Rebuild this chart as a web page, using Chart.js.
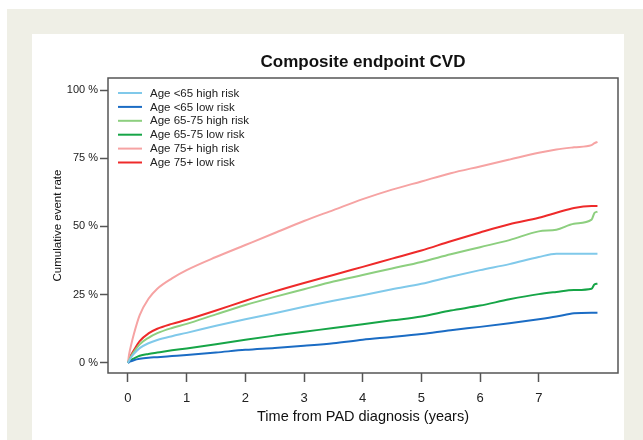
<!DOCTYPE html>
<html>
<head>
<meta charset="utf-8">
<script src="https://cdn.jsdelivr.net/npm/chart.js@4.4.1/dist/chart.umd.min.js"></script>
<style>
  html, body { margin: 0; padding: 0; background: #fff; }
  #wrap { position: relative; width: 643px; height: 440px; overflow: hidden; }
  #beige { position: absolute; left: 7px; top: 9px; width: 636px; height: 431px; background: #efefe6; }
  #panel { position: absolute; left: 32px; top: 34px; width: 592px; height: 406px; background: #fff; }
  #cvdChart { position: absolute; left: 0; top: 0; }
</style>
</head>
<body>
<div id="wrap">
  <div id="beige"></div>
  <div id="panel"></div>
  <canvas id="cvdChart" width="643" height="440"></canvas>
</div>
<script>
// years since PAD diagnosis
var years = [0, 0.02, 0.05, 0.1, 0.2, 0.35, 0.5, 0.75, 1, 1.5, 2, 2.5, 3, 3.5, 4, 4.5, 5, 5.5, 6, 6.5, 7, 7.3, 7.6, 7.9, 7.95, 8.0];

// cumulative event rate (%)
var under65High = [0, 0.8, 1.9, 3.3, 5.4, 7.2, 8.4, 9.8, 11, 13.6, 16, 18.2, 20.6, 22.8, 24.8, 27, 29, 31.6, 34, 36.2, 38.8, 40, 40, 40, 40, 40];
var under65Low = [0, 0.3, 0.6, 1, 1.5, 1.9, 2.1, 2.5, 2.9, 3.8, 4.8, 5.5, 6.3, 7.2, 8.5, 9.5, 10.6, 12, 13.2, 14.5, 16, 17, 18.2, 18.4, 18.4, 18.4];
var age6575High = [0, 1, 2.3, 4, 6.8, 9.2, 10.9, 12.8, 14.3, 17.8, 21.2, 24.2, 27, 29.8, 32.2, 34.6, 37, 39.8, 42.4, 45, 48.2, 48.8, 51, 52.5, 55, 55.4];
var age6575Low = [0, 0.5, 1, 1.6, 2.6, 3.3, 3.8, 4.6, 5.3, 6.8, 8.5, 10, 11.4, 12.8, 14.2, 15.6, 17, 19.2, 21, 23.3, 25.2, 26, 26.7, 27.2, 28.8, 29];
var over75High = [0, 3.2, 6.2, 10.5, 17.5, 23.5, 27.2, 31, 34, 38.8, 43.2, 47.6, 52, 56, 60, 63.5, 66.5, 69.5, 72, 74.5, 77, 78.2, 79, 79.8, 80.5, 81];
var over75Low = [0, 1.3, 2.7, 4.6, 8, 10.8, 12.5, 14.3, 15.8, 19.2, 22.8, 26.2, 29.3, 32.2, 35.2, 38.2, 41.2, 44.6, 47.8, 50.8, 53.2, 55, 56.8, 57.5, 57.5, 57.5];

var seriesLabels = ['Age <65 high risk', 'Age <65 low risk', 'Age 65-75 high risk', 'Age 65-75 low risk', 'Age 75+ high risk', 'Age 75+ low risk'];
var seriesColors = ['#80c9ea', '#1b6cc4', '#8dcf7f', '#16a547', '#f6a3a3', '#ee2a2a'];
var seriesValues = [under65High, under65Low, age6575High, age6575Low, over75High, over75Low];

var xTicks = [0, 1, 2, 3, 4, 5, 6, 7];
var yTicks = [0, 25, 50, 75, 100];

var fontFamily = '"Liberation Sans", Arial, sans-serif';

function toPoints(values) {
    return values.map(function (v, i) { return { x: years[i], y: v }; });
}

var datasets = seriesValues.map(function (values, i) {
    return {
        label: seriesLabels[i],
        data: toPoints(values),
        borderColor: seriesColors[i],
        borderWidth: 2,
        pointRadius: 0,
        fill: false,
        cubicInterpolationMode: 'monotone'
    };
});

// frame around the plot area, like R's box()
var frameBox = {
    id: 'frameBox',
    afterDatasetsDraw: function (chart) {
        var a = chart.chartArea, ctx = chart.ctx;
        ctx.save();
        ctx.strokeStyle = '#555';
        ctx.lineWidth = 1.5;
        ctx.strokeRect(a.left, a.top, a.right - a.left, a.bottom - a.top);
        ctx.restore();
    }
};

// legend inside the plot, top left
var insideLegend = {
    id: 'insideLegend',
    afterDraw: function (chart) {
        var ctx = chart.ctx;
        ctx.save();
        ctx.font = '11.5px ' + fontFamily;
        ctx.textBaseline = 'middle';
        chart.data.datasets.forEach(function (ds, i) {
            var y = 93 + i * 13.9;
            ctx.strokeStyle = ds.borderColor;
            ctx.lineWidth = 2;
            ctx.beginPath();
            ctx.moveTo(118, y);
            ctx.lineTo(142, y);
            ctx.stroke();
            ctx.fillStyle = '#222';
            ctx.fillText(ds.label, 150, y + 0.5);
        });
        ctx.restore();
    }
};

var ctx = document.getElementById('cvdChart').getContext('2d');
var cvdChart = new Chart(ctx, {
    type: 'line',
    data: { datasets: datasets },
    plugins: [frameBox, insideLegend],
    options: {
        responsive: false,
        animation: false,
        layout: { padding: { left: 0, top: 0, right: 25, bottom: 0 } },
        plugins: {
            legend: { display: false },
            tooltip: { enabled: false },
            title: {
                display: true,
                fullSize: false,
                text: 'Composite endpoint CVD',
                color: '#111',
                font: { family: fontFamily, size: 17, weight: 'bold', lineHeight: 1.2 },
                padding: { top: 51.8, bottom: 5.8 }
            }
        },
        scales: {
            x: {
                type: 'linear',
                min: -0.34,
                max: 8.35,
                afterBuildTicks: function (scale) {
                    scale.ticks = xTicks.map(function (v) { return { value: v }; });
                },
                afterFit: function (scale) { scale.height = 67; },
                grid: { drawOnChartArea: false, tickLength: 9, tickColor: '#555', tickWidth: 1.5 },
                border: { display: false },
                ticks: {
                    color: '#222',
                    padding: 9,
                    maxRotation: 0,
                    font: { family: fontFamily, size: 13 }
                },
                title: {
                    display: true,
                    text: 'Time from PAD diagnosis (years)',
                    color: '#111',
                    font: { family: fontFamily, size: 14.5, lineHeight: 1.2 },
                    padding: { top: 0, bottom: 14 }
                }
            },
            y: {
                type: 'linear',
                min: -3.7,
                max: 104.4,
                afterBuildTicks: function (scale) {
                    scale.ticks = yTicks.map(function (v) { return { value: v }; });
                },
                afterFit: function (scale) { scale.width = 108; },
                grid: { drawOnChartArea: false, tickLength: 8, tickColor: '#555', tickWidth: 1.5 },
                border: { display: false },
                ticks: {
                    color: '#222',
                    padding: 2,
                    font: { family: fontFamily, size: 11 },
                    callback: function (v) { return v + ' %'; }
                },
                title: {
                    display: true,
                    text: 'Cumulative event rate',
                    color: '#111',
                    font: { family: fontFamily, size: 11.5, lineHeight: 1.2 },
                    padding: { top: 51, bottom: 0 }
                }
            }
        }
    }
});
</script>
</body>
</html>
